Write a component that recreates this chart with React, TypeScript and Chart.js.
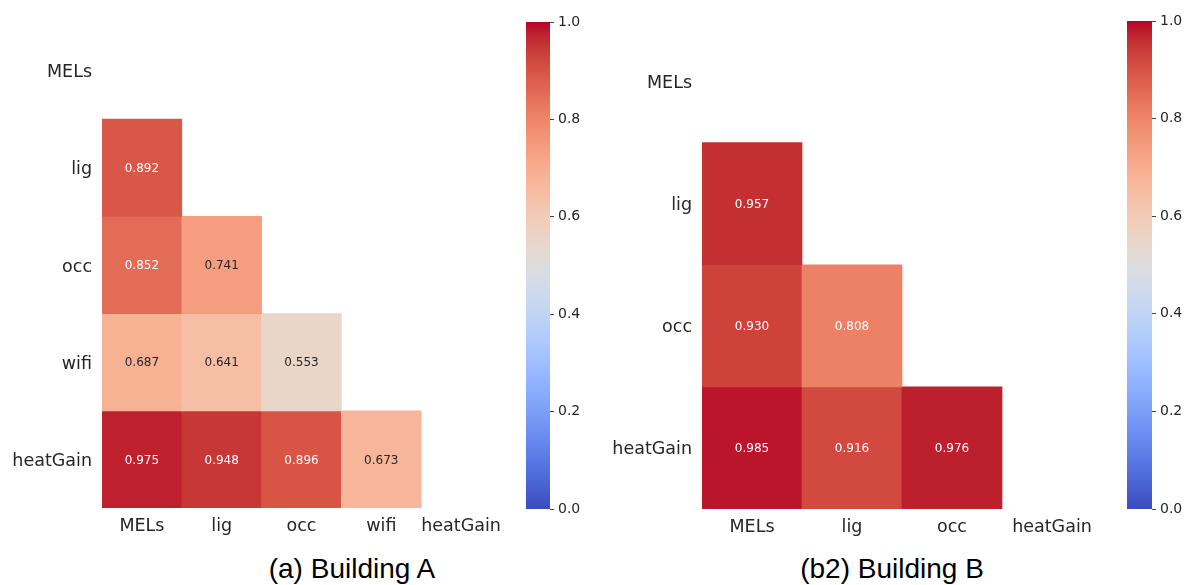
import { useEffect, useRef } from "react";
import { Chart, registerables } from "chart.js";

Chart.register(...registerables);

// Variables and lower-triangle correlation coefficients, Building A
const varsA = ["MELs", "lig", "occ", "wifi", "heatGain"];
const corrA: number[][] = [
  [],
  [0.892],
  [0.852, 0.741],
  [0.687, 0.641, 0.553],
  [0.975, 0.948, 0.896, 0.673],
];

// Variables and lower-triangle correlation coefficients, Building B
const varsB = ["MELs", "lig", "occ", "heatGain"];
const corrB: number[][] = [
  [],
  [0.957],
  [0.93, 0.808],
  [0.985, 0.916, 0.976],
];

const colorbarTicks = [0, 0.2, 0.4, 0.6, 0.8, 1.0];
const captionA = "(a) Building A";
const captionB = "(b2) Building B";

// Matplotlib "coolwarm" colour map, sampled every 1/32
const COOLWARM: number[][] = [
  [59, 76, 192], [68, 90, 204], [77, 104, 215], [87, 117, 225],
  [98, 130, 234], [108, 142, 241], [119, 154, 247], [130, 165, 251],
  [141, 176, 254], [152, 185, 255], [163, 194, 255], [174, 201, 253],
  [184, 208, 249], [194, 213, 244], [204, 217, 238], [213, 219, 230],
  [221, 221, 221], [229, 216, 209], [236, 211, 197], [241, 204, 184],
  [245, 196, 172], [247, 187, 159], [247, 177, 147], [247, 166, 134],
  [244, 154, 123], [241, 141, 111], [236, 127, 100], [229, 112, 89],
  [222, 96, 77], [213, 80, 66], [203, 62, 56], [192, 40, 47],
  [180, 4, 38],
];

function coolwarmRgb(v: number): number[] {
  const t = Math.max(0, Math.min(1, v)) * (COOLWARM.length - 1);
  const i = Math.min(COOLWARM.length - 2, Math.floor(t));
  const f = t - i;
  const a = COOLWARM[i];
  const b = COOLWARM[i + 1];
  return [0, 1, 2].map((k) => a[k] + (b[k] - a[k]) * f);
}

function coolwarm(v: number): string {
  const [r, g, b] = coolwarmRgb(v);
  return `rgb(${Math.round(r)},${Math.round(g)},${Math.round(b)})`;
}

// Light cells get dark annotation text, dark cells get white
function annotColor(v: number): string {
  const lin = coolwarmRgb(v).map((c) => {
    const s = c / 255;
    return s <= 0.03928 ? s / 12.92 : Math.pow((s + 0.055) / 1.055, 2.4);
  });
  const lum = 0.2126 * lin[0] + 0.7152 * lin[1] + 0.0722 * lin[2];
  return lum > 0.408 ? "#262626" : "#ffffff";
}

const TEXT = "#262626";
const SANS = "'DejaVu Sans', sans-serif";

const cellText = {
  id: "cellText",
  afterDatasetsDraw(chart: any) {
    const ctx = chart.ctx;
    ctx.save();
    ctx.font = `12px ${SANS}`;
    ctx.textAlign = "center";
    ctx.textBaseline = "middle";
    chart.data.datasets.forEach((ds: any, di: number) => {
      const meta = chart.getDatasetMeta(di);
      meta.data.forEach((el: any, j: number) => {
        const v = ds.corr[j];
        if (v == null) return;
        const p = el.getCenterPoint();
        ctx.fillStyle = annotColor(v);
        ctx.fillText(v.toFixed(3), p.x, p.y + 1);
      });
    });
    ctx.restore();
  },
};

const colorbarFill = {
  id: "colorbarFill",
  beforeDatasetsDraw(chart: any) {
    const { ctx, chartArea } = chart;
    const y = chart.scales.y;
    const y0 = y.getPixelForValue(0);
    const y1 = y.getPixelForValue(1);
    const grad = ctx.createLinearGradient(0, y0, 0, y1);
    COOLWARM.forEach((c, i) => {
      grad.addColorStop(i / (COOLWARM.length - 1), `rgb(${c[0]},${c[1]},${c[2]})`);
    });
    ctx.save();
    ctx.fillStyle = grad;
    ctx.fillRect(chartArea.left, y1, chartArea.right - chartArea.left, y0 - y1);
    ctx.restore();
  },
};

type HeatProps = {
  labels: string[];
  matrix: number[][];
  left: number;
  width: number;
  height: number;
  padTop: number;
  padRight: number;
  yAxisWidth: number;
  xAxisHeight: number;
};

function Heatmap(p: HeatProps) {
  const ref = useRef<HTMLCanvasElement>(null);
  useEffect(() => {
    const n = p.labels.length;
    const datasets = p.labels.map((_, i) => ({
      data: p.labels.map((__, j) => (j < i ? [i - 0.5, i + 0.5] : null)),
      backgroundColor: p.labels.map((__, j) => (j < i ? coolwarm(p.matrix[i][j]) : "rgba(0,0,0,0)")),
      corr: p.labels.map((__, j) => (j < i ? p.matrix[i][j] : null)),
      borderWidth: 0,
      barPercentage: 1,
      categoryPercentage: 1,
    }));
    const chart = new Chart(ref.current as HTMLCanvasElement, {
      type: "bar",
      data: { labels: p.labels, datasets: datasets as any },
      options: {
        animation: false,
        responsive: false,
        maintainAspectRatio: false,
        layout: { padding: { top: p.padTop, right: p.padRight, left: 0, bottom: 0 } },
        plugins: { legend: { display: false }, tooltip: { enabled: false } },
        scales: {
          x: {
            stacked: true,
            grid: { display: false, drawTicks: false },
            border: { display: false },
            ticks: {
              padding: 8,
              color: TEXT,
              font: { family: SANS, size: 17.5 },
              maxRotation: 0,
              minRotation: 0,
              autoSkip: false,
            },
            afterFit: (s: any) => {
              s.height = p.xAxisHeight;
            },
          },
          y: {
            type: "linear",
            stacked: false,
            reverse: true,
            min: -0.5,
            max: n - 0.5,
            grid: { display: false, drawTicks: false },
            border: { display: false },
            afterBuildTicks: (s: any) => {
              s.ticks = p.labels.map((_, i) => ({ value: i }));
            },
            ticks: {
              padding: 10,
              labelOffset: 2,
              color: TEXT,
              font: { family: SANS, size: 17.5 },
              autoSkip: false,
              callback: (v: any) => p.labels[v] ?? "",
            },
            afterFit: (s: any) => {
              s.width = p.yAxisWidth;
            },
          },
        },
      } as any,
      plugins: [cellText],
    });
    return () => chart.destroy();
  }, []);
  return (
    <canvas
      ref={ref}
      width={p.width}
      height={p.height}
      style={{ position: "absolute", left: p.left, top: 0, width: p.width, height: p.height }}
    />
  );
}

type BarProps = {
  left: number;
  width: number;
  height: number;
  padLeft: number;
  padTop: number;
  padBottom: number;
  axisWidth: number;
};

function Colorbar(p: BarProps) {
  const ref = useRef<HTMLCanvasElement>(null);
  useEffect(() => {
    const chart = new Chart(ref.current as HTMLCanvasElement, {
      type: "bar",
      data: { labels: [""], datasets: [] },
      options: {
        animation: false,
        responsive: false,
        maintainAspectRatio: false,
        layout: { padding: { left: p.padLeft, top: p.padTop, bottom: p.padBottom, right: 0 } },
        plugins: { legend: { display: false }, tooltip: { enabled: false } },
        scales: {
          x: { display: false },
          y: {
            type: "linear",
            position: "right",
            min: 0,
            max: 1,
            afterBuildTicks: (s: any) => {
              s.ticks = colorbarTicks.map((v) => ({ value: v }));
            },
            grid: {
              display: true,
              drawOnChartArea: false,
              drawTicks: true,
              tickLength: 4,
              color: "#444",
              lineWidth: 1,
            },
            border: { display: false },
            ticks: {
              padding: 4,
              color: TEXT,
              font: { family: SANS, size: 14 },
              callback: (v: any) => Number(v).toFixed(1),
            },
            afterFit: (s: any) => {
              s.width = p.axisWidth;
            },
          },
        },
      } as any,
      plugins: [colorbarFill],
    });
    return () => chart.destroy();
  }, []);
  return (
    <canvas
      ref={ref}
      width={p.width}
      height={p.height}
      style={{ position: "absolute", left: p.left, top: 0, width: p.width, height: p.height }}
    />
  );
}

function Caption({ text, center }: { text: string; center: number }) {
  return (
    <div
      style={{
        position: "absolute",
        left: center - 300,
        width: 600,
        top: 555,
        textAlign: "center",
        fontFamily: "'Liberation Sans', Arial, sans-serif",
        fontSize: 28,
        lineHeight: "28px",
        color: "#000",
        whiteSpace: "nowrap",
      }}
    >
      {text}
    </div>
  );
}

export default function App() {
  return (
    <div
      style={{
        position: "absolute",
        left: 0,
        top: 0,
        width: 1186,
        height: 585,
        background: "#fff",
        overflow: "hidden",
      }}
    >
      <Heatmap
        labels={varsA}
        matrix={corrA}
        left={0}
        width={520}
        height={545}
        padTop={22}
        padRight={19}
        yAxisWidth={102}
        xAxisHeight={37}
      />
      <Colorbar left={500} width={100} height={545} padLeft={26} padTop={22} padBottom={36} axisWidth={50} />
      <Heatmap
        labels={varsB}
        matrix={corrB}
        left={600}
        width={520}
        height={545}
        padTop={20}
        padRight={18}
        yAxisWidth={102}
        xAxisHeight={36}
      />
      <Colorbar left={1100} width={86} height={545} padLeft={27} padTop={21} padBottom={36} axisWidth={34} />
      <Caption text={captionA} center={352} />
      <Caption text={captionB} center={892} />
    </div>
  );
}
